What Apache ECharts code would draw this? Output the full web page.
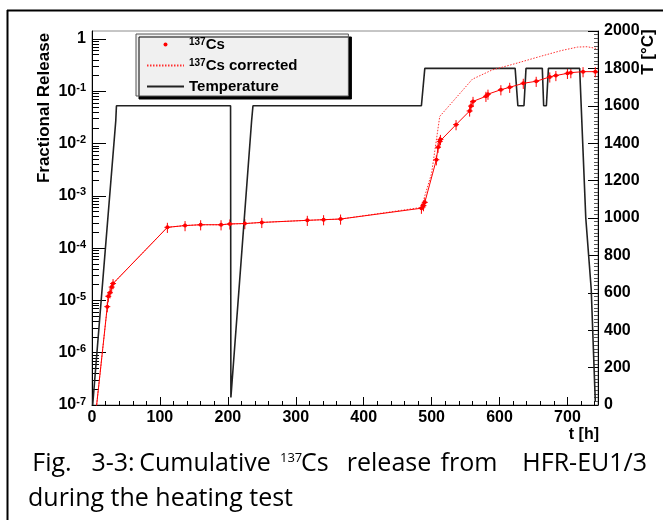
<!DOCTYPE html>
<html>
<head>
<meta charset="utf-8">
<script src="https://cdn.jsdelivr.net/npm/echarts@6.0.0/dist/echarts.min.js"></script>
<style>
  html, body { margin: 0; padding: 0; background: #fff; }
  #chart { width: 663px; height: 520px; }
</style>
</head>
<body>
<div id="chart"></div>
<script>
// measured 137Cs fractional release, t in hours
var csTime = [5, 22.5, 24, 26.5, 29, 31, 111, 137, 160, 190, 203, 225, 250, 317, 341, 366,
  485, 488, 490, 507, 509.5, 512, 513, 536, 556, 558, 561, 580, 583, 602, 615, 635, 654,
  674, 683, 700, 705, 723, 741];
var csRelease = [6e-8, 7.6e-6, 1.2e-5, 1.4e-5, 1.8e-5, 2.1e-5, 2.5e-4, 2.7e-4, 2.8e-4, 2.8e-4,
  2.9e-4, 2.95e-4, 3.1e-4, 3.4e-4, 3.5e-4, 3.6e-4, 5.8e-4, 6.5e-4, 7.5e-4, 4.9e-3, 8.5e-3,
  1.1e-2, 1.2e-2, 2.3e-2, 4.2e-2, 5.2e-2, 6.4e-2, 8.0e-2, 8.8e-2, 0.107, 0.119, 0.142, 0.155,
  0.188, 0.2, 0.22, 0.227, 0.237, 0.237];
var csRelErr = 0.22;

// corrected release (dotted)
var corrTime = [5, 22.5, 24, 26.5, 29, 31, 111, 137, 160, 190, 203, 225, 250, 317, 341, 366,
  485, 490, 500, 512, 560, 589, 624, 659, 691, 715, 729, 742];
var corrRelease = [6e-8, 7.6e-6, 1.2e-5, 1.4e-5, 1.8e-5, 2.1e-5, 2.5e-4, 2.7e-4, 2.8e-4, 2.8e-4,
  2.9e-4, 2.95e-4, 3.1e-4, 3.4e-4, 3.5e-4, 3.6e-4, 6.0e-4, 1.0e-3, 2.7e-3, 3.3e-2, 0.17,
  0.255, 0.34, 0.46, 0.6, 0.7, 0.71, 0.66];

// furnace temperature, right axis
var tempTime = [1, 35, 36, 204, 204.5, 235, 237, 485, 490, 623, 627, 636, 639, 663, 665, 669, 672, 718, 727, 735, 741];
var tempValue = [0, 1520, 1600, 1600, 40, 1520, 1600, 1600, 1800, 1800, 1600, 1600, 1800, 1800, 1600, 1600, 1800, 1800, 1000, 620, 20];

// log axis minor tick mantissas (ROOT style 2..9 per decade)
var logDecades = [-7, -6, -5, -4, -3, -2, -1, 0];
var logMantissas = [2, 3, 4, 5, 6, 7, 8, 9];

var tickFont = 'Liberation Sans';

var chart = echarts.init(document.getElementById('chart'));

function pairs(xs, ys) {
  return xs.map(function (x, i) { return [x, ys[i]]; });
}

var errData = csTime.map(function (t, i) {
  var v = csRelease[i];
  return [t, v * (1 - csRelErr), v * (1 + csRelErr), v];
});

var minorLogValues = [];
logDecades.forEach(function (d) {
  logMantissas.forEach(function (m) {
    var v = m * Math.pow(10, d);
    if (v < 1.42) minorLogValues.push(v);
  });
});

function supLabel(name) {
  return name.replace(/^137/, '{s|137}{b|') + '}';
}

var boldRich = {
  b: { fontFamily: tickFont, fontWeight: 'bold', fontSize: 16, lineHeight: 18, color: '#000' },
  s: { fontFamily: tickFont, fontWeight: 'bold', fontSize: 11, lineHeight: 11, verticalAlign: 'top', color: '#000' }
};

var option = {
  animation: false,
  backgroundColor: '#fff',
  grid: { left: 92, right: 65, top: 31, bottom: 115, show: true, borderColor: '#8c8c8c', borderWidth: 1, outerBoundsMode: 'none' },
  legend: {
    orient: 'vertical',
    left: 136,
    top: 34,
    align: 'left',
    selectedMode: false,
    itemWidth: 37,
    itemHeight: 14,
    itemGap: 6,
    padding: [3, 51, 2, 10],
    backgroundColor: '#f0f0f0',
    borderColor: '#555',
    borderWidth: 1,
    borderRadius: 0,
    shadowColor: '#000',
    shadowBlur: 0,
    shadowOffsetX: 3,
    shadowOffsetY: 3,
    data: [
      { name: '137Cs', icon: 'path://M-7,-7M7,7M0,-2A2,2 0 1,1 0,2A2,2 0 1,1 0,-2Z', itemStyle: { color: '#ff0000' } },
      { name: '137Cs corrected', itemStyle: { opacity: 0, color: 'transparent', borderWidth: 0 } },
      { name: 'Temperature', itemStyle: { opacity: 0, color: 'transparent', borderWidth: 0 } }
    ],
    formatter: function (name) {
      return /^137/.test(name) ? supLabel(name) : '{b|' + name + '}';
    },
    textStyle: {
      color: '#000',
      rich: {
        b: { fontFamily: tickFont, fontWeight: 'bold', fontSize: 15, lineHeight: 15, color: '#000' },
        s: { fontFamily: tickFont, fontWeight: 'bold', fontSize: 10, lineHeight: 9, verticalAlign: 'top', color: '#000' }
      }
    }
  },
  xAxis: {
    type: 'value',
    min: 0,
    max: 745,
    interval: 100,
    axisLine: { show: true, lineStyle: { color: '#000', width: 1 } },
    axisTick: { show: true, inside: true, length: 8, lineStyle: { color: '#000' } },
    minorTick: { show: true, splitNumber: 5, length: 4, lineStyle: { color: '#000' } },
    splitLine: { show: false },
    axisLabel: {
      showMaxLabel: false, margin: 4,
      formatter: function (v) { return '{b|' + v + '}'; },
      rich: boldRich
    }
  },
  yAxis: [
    {
      type: 'log',
      logBase: 10,
      min: 1e-7,
      max: 1.42,
      splitNumber: 8,
      position: 'left',
      axisLine: { show: true, lineStyle: { color: '#000', width: 1 } },
      axisTick: { show: true, inside: true, length: 14, lineStyle: { color: '#000' } },
      splitLine: { show: false },
      axisLabel: {
        showMaxLabel: false,
        margin: 6,
        formatter: function (v) {
          var e = Math.round(Math.log10(v));
          return e === 0 ? '{b|1}' : '{b|10}{s|' + e + '}';
        },
        rich: boldRich
      }
    },
    {
      type: 'value',
      min: 0,
      max: 2000,
      interval: 200,
      position: 'right',
      axisLine: { show: true, lineStyle: { color: '#000', width: 1 } },
      axisTick: { show: true, inside: true, length: 10, lineStyle: { color: '#000' } },
      minorTick: { show: true, splitNumber: 10, length: 4, lineStyle: { color: '#555' } },
      splitLine: { show: false },
      axisLabel: {
        margin: 6,
        formatter: function (v) { return '{b|' + v + '}'; },
        rich: boldRich
      }
    },
    {
      // second log axis on the left that only carries the 2..9 minor ticks
      type: 'log',
      logBase: 10,
      min: 1e-7,
      max: 1.42,
      position: 'left',
      offset: 0,
      axisLine: { show: false },
      axisLabel: { show: false },
      splitLine: { show: false },
      axisTick: { show: true, inside: true, length: 7, customValues: minorLogValues, lineStyle: { color: '#000' } }
    }
  ],
  series: [
    {
      name: 'Temperature',
      type: 'line',
      yAxisIndex: 1,
      data: pairs(tempTime, tempValue),
      symbol: 'none',
      color: '#222',
      lineStyle: { color: '#222', width: 1.6 },
      clip: true
    },
    {
      name: '137Cs corrected',
      type: 'line',
      yAxisIndex: 0,
      data: pairs(corrTime, corrRelease),
      symbol: 'none',
      color: '#ff3030',
      lineStyle: { color: '#ff3030', width: 1, type: [1.5, 1.5] },
      clip: true
    },
    {
      name: '137Cs',
      type: 'line',
      yAxisIndex: 0,
      data: pairs(csTime, csRelease),
      symbol: 'circle',
      symbolSize: 4,
      color: '#ff0000',
      itemStyle: { color: '#ff0000' },
      lineStyle: { color: '#ff0000', width: 1 },
      clip: true
    },
    {
      name: 'errors',
      type: 'custom',
      coordinateSystem: 'cartesian2d',
      yAxisIndex: 0,
      data: errData,
      clip: true,
      encode: { x: 0, y: [1, 2] },
      renderItem: function (params, api) {
        var t = api.value(0);
        var top = api.coord([t, api.value(2)]);
        var bot = api.coord([t, api.value(1)]);
        var mid = api.coord([t, api.value(3)]);
        return {
          type: 'group',
          children: [
            { type: 'line', shape: { x1: top[0], y1: top[1], x2: bot[0], y2: bot[1] }, style: { stroke: '#ff0000', lineWidth: 1 } },
            { type: 'line', shape: { x1: mid[0] - 3, y1: mid[1], x2: mid[0] + 3, y2: mid[1] }, style: { stroke: '#ff0000', lineWidth: 1 } }
          ]
        };
      }
    }
  ],
  graphic: [
    // outer figure frame
    { type: 'line', shape: { x1: 7, y1: 10.5, x2: 663, y2: 10.5 }, style: { stroke: '#000', lineWidth: 2 } },
    { type: 'line', shape: { x1: 7.5, y1: 10, x2: 7.5, y2: 520 }, style: { stroke: '#000', lineWidth: 2 } },
    // axis titles
    { type: 'text', x: 44, y: 108, rotation: Math.PI / 2,
      style: { text: 'Fractional Release', font: 'bold 17px "Liberation Sans"', fill: '#000', align: 'center', verticalAlign: 'middle' } },
    { type: 'text', x: 648, y: 52, rotation: Math.PI / 2,
      style: { text: 'T [°C]', font: 'bold 17px "Liberation Sans"', fill: '#000', align: 'center', verticalAlign: 'middle' } },
    { type: 'text', x: 599, y: 435,
      style: { text: 't [h]', font: 'bold 16px "Liberation Sans"', fill: '#000', align: 'right', verticalAlign: 'middle' } },
    // caption
    { type: 'text', x: 52, y: 464, style: { text: 'Fig.', font: '25px "Open Sans"', fill: '#000', align: 'center', verticalAlign: 'middle' } },
    { type: 'text', x: 113, y: 464, style: { text: '3-3:', font: '25px "Open Sans"', fill: '#000', align: 'center', verticalAlign: 'middle' } },
    { type: 'text', x: 205, y: 464, style: { text: 'Cumulative', font: '25px "Open Sans"', fill: '#000', align: 'center', verticalAlign: 'middle' } },
    { type: 'text', x: 280, y: 458, style: { text: '137', font: '13px "Open Sans"', fill: '#000', align: 'left', verticalAlign: 'middle' } },
    { type: 'text', x: 301, y: 464, style: { text: 'Cs', font: '25px "Open Sans"', fill: '#000', align: 'left', verticalAlign: 'middle' } },
    { type: 'text', x: 389, y: 464, style: { text: 'release', font: '25px "Open Sans"', fill: '#000', align: 'center', verticalAlign: 'middle' } },
    { type: 'text', x: 469, y: 464, style: { text: 'from', font: '25px "Open Sans"', fill: '#000', align: 'center', verticalAlign: 'middle' } },
    { type: 'text', x: 647, y: 464, style: { text: 'HFR-EU1/3', font: '25px "Open Sans"', fill: '#000', align: 'right', verticalAlign: 'middle' } },
    { type: 'text', x: 28, y: 499, style: { text: 'during the heating test', font: '25px "Open Sans"', fill: '#000', align: 'left', verticalAlign: 'middle' } }
  ]
};

chart.setOption(option);
</script>
</body>
</html>
